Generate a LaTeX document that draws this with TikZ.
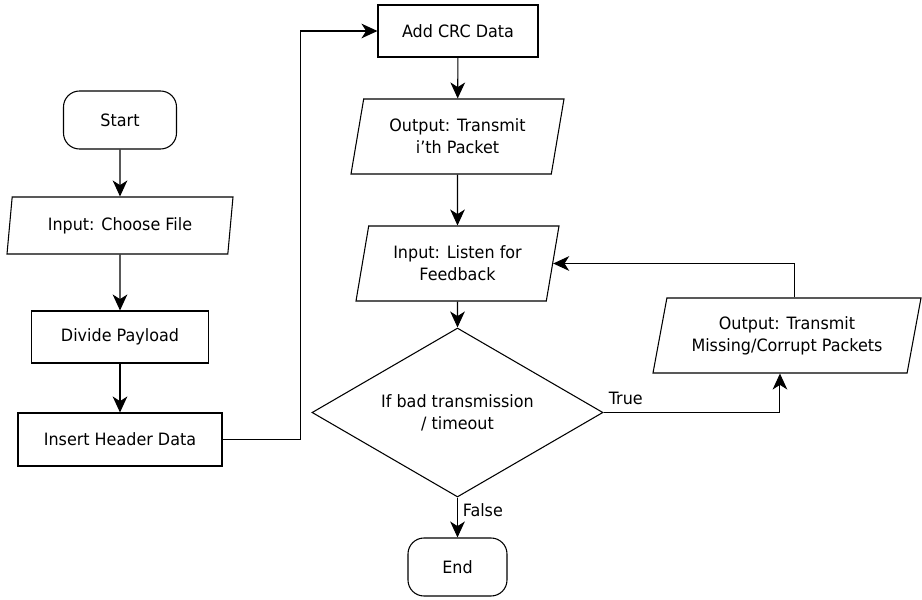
\documentclass[tikz,border=0pt]{standalone}
\usepackage{fontspec}
\setmainfont{DejaVu Sans}[FakeStretch=0.94]
\usetikzlibrary{arrows.meta,shapes.geometric}

\begin{document}
\begin{tikzpicture}[x=0.75pt,y=-0.75pt,
  font=\fontsize{12.75pt}{16.3pt}\selectfont,
  line/.style={draw=black, line width=0.8pt},
  flow/.style={line, -{Stealth[length=12pt,width=11pt,inset=3.5pt]}},
  term/.style={line, rectangle, rounded corners=12pt, align=center, inner sep=0pt},
  proc/.style={line, rectangle, align=center, inner sep=0pt},
  io/.style={line, trapezium, trapezium left angle=70, trapezium right angle=110,
    trapezium stretches body, align=center, inner sep=0pt},
  decision/.style={line, diamond, aspect=1.72, align=center, inner sep=0pt},
  lbl/.style={inner sep=0pt, anchor=west}
]
\useasboundingbox (0,0) rectangle (922,600);
\fill[white] (0,0) rectangle (922,600);

% left column
\node[term, minimum width=84.75pt, minimum height=43.5pt] (start) at (120,120) {Start};
\node[io, trapezium left angle=72.5, trapezium right angle=107.5,
  minimum width=169.5pt, minimum height=42.75pt] (file) at (120,225.5) {Input: Choose File};
\node[proc, minimum width=132.75pt, minimum height=39pt] (split) at (120,337) {Divide Payload};
\node[proc, minimum width=153pt, minimum height=39.75pt] (header) at (120,439.5) {Insert Header Data};

% main column
\node[proc, minimum width=120pt, minimum height=39pt] (crc) at (458,31) {Add CRC Data};
\node[io, minimum width=159.75pt, minimum height=56.25pt] (send) at (457.5,136.5) {Output: Transmit\\i'th Packet};
\node[io, minimum width=152.25pt, minimum height=56.25pt] (listen) at (457.5,263.5) {Input: Listen for\\Feedback};
\node[decision, minimum width=218.25pt, minimum height=126.75pt] (check) at (457.5,412.5) {If bad transmission\\/ timeout};
\node[term, minimum width=74.25pt, minimum height=43.5pt] (finish) at (457.5,567) {End};

% retransmission branch
\node[io, minimum width=201pt, minimum height=56.25pt] (resend) at (787,335.5) {Output: Transmit\\Missing/Corrupt Packets};

% connectors
\draw[flow] (start) -- (file);
\draw[flow] (file) -- (split);
\draw[flow] (split) -- (header);
\draw[flow] (header.east) -- ++(78,0) |- (crc.west);
\draw[flow] (crc) -- (send);
\draw[flow] (send) -- (listen);
\draw[flow] (listen) -- (check);
\draw[flow] (check) -- (finish);
\draw[flow] (check.east) -| (resend.bottom side);
\draw[flow] (resend.top side) |- (listen.east);

% branch labels
\node[lbl] (truelbl) at ([shift={(5,-14)}]check.east) {True};
\node[lbl] (falselbl) at ([shift={(5,13)}]check.south) {False};
\end{tikzpicture}
\end{document}
